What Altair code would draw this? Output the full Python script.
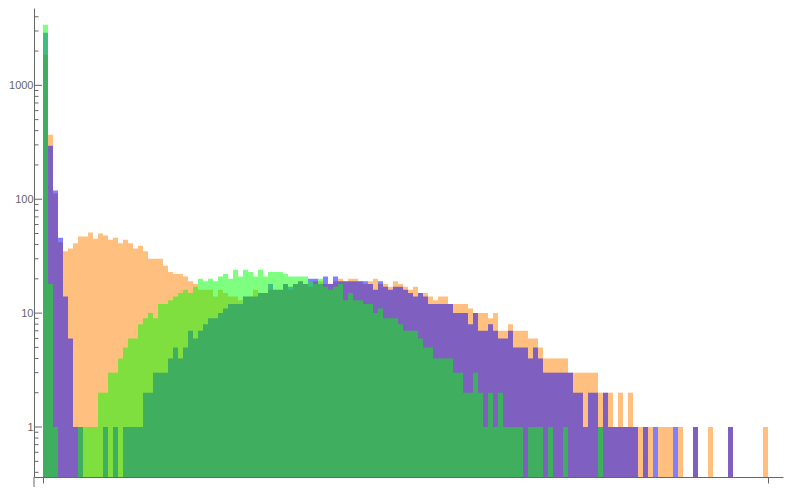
import altair as alt
import pandas as pd

# Histogram counts per bin (bins 0..144), three overlapping series
orange_counts = [
    1860, 368, 112, 42, 35, 37, 41, 47, 47, 51,
    45, 50, 48, 44, 46, 41, 44, 41, 37, 39,
    35, 30, 30, 30, 26, 23, 22, 22, 21, 19,
    18, 16, 16, 16, 14, 16, 15, 14, 14, 13,
    14, 14, 16, 15, 15, 16, 16, 16, 18, 16,
    18, 19, 18, 17, 19, 19, 18, 18, 19, 20,
    19, 20, 20, 19, 18, 19, 20, 18, 18, 17,
    19, 18, 17, 16, 17, 15, 15, 14, 13, 14,
    14, 12, 12, 12, 12, 11, 10, 10, 10, 9,
    10, 7, 7, 8, 7, 7, 7, 6, 6, 5,
    4, 4, 4, 4, 4, 3, 3, 3, 3, 3,
    3, 2, 2, 2, 1, 2, 1, 2, 1, 1,
    1, 1, 0, 1, 1, 1, 0, 1, 0, 0,
    1, 0, 0, 1, 0, 0, 0, 1, 0, 0,
    0, 0, 0, 0, 1,
]
blue_counts = [
    2900, 295, 119, 46, 14, 6, 1, 1, 0, 0,
    0, 0, 1, 0, 1, 0, 1, 1, 1, 1,
    2, 2, 3, 3, 3, 4, 5, 4, 5, 7,
    6, 7, 8, 9, 9, 10, 11, 12, 12, 12,
    14, 14, 14, 15, 15, 18, 16, 16, 18, 17,
    18, 19, 18, 20, 20, 18, 21, 18, 21, 19,
    19, 19, 19, 19, 19, 18, 16, 19, 17, 16,
    17, 17, 16, 15, 14, 15, 14, 12, 12, 12,
    12, 12, 10, 10, 10, 8, 10, 7, 7, 8,
    7, 6, 6, 7, 5, 5, 5, 4, 5, 4,
    3, 3, 3, 3, 3, 3, 2, 2, 1, 2,
    2, 1, 2, 1, 1, 1, 1, 1, 1, 0,
    1, 0, 1, 0, 0, 0, 1, 0, 0, 0,
    1, 0, 0, 0, 0, 0, 0, 1, 0, 0,
    0, 0, 0, 0, 0,
]
green_counts = [
    3400, 18, 1, 0, 0, 0, 0, 1, 1, 1,
    1, 2, 2, 3, 3, 4, 5, 6, 6, 8,
    9, 10, 9, 12, 12, 13, 14, 15, 16, 15,
    17, 20, 19, 20, 19, 21, 22, 20, 24, 21,
    24, 23, 21, 24, 21, 23, 23, 23, 22, 21,
    21, 21, 21, 19, 18, 20, 17, 16, 17, 18,
    13, 15, 13, 13, 12, 12, 10, 11, 9, 9,
    9, 8, 7, 7, 7, 6, 5, 5, 4, 4,
    4, 4, 3, 3, 2, 2, 3, 2, 1, 2,
    1, 2, 1, 1, 1, 1, 0, 1, 1, 1,
    0, 1, 0, 0, 1, 0, 0, 0, 0, 0,
    0, 1, 0, 0, 0, 0, 0, 0, 0, 0,
    0, 0, 0, 0, 0, 0, 0, 0, 0, 0,
    0, 0, 0, 0, 0, 0, 0, 0, 0, 0,
    0, 0, 0, 0, 0,
]

series_names = ["orange", "blue", "green"]
series_colors = ["#FF8000", "#0000FF", "#00FF00"]

major_ticks = [1, 10, 100, 1000]
minor_ticks = ([m / 10 for m in range(4, 10)]
               + [m * 10 ** e for e in range(0, 3) for m in range(2, 10)]
               + [2000, 3000, 4000])
x_ticks = [0, 145]

rows = []
for name, vals in zip(series_names, [orange_counts, blue_counts, green_counts]):
    for i, v in enumerate(vals):
        if v > 0:
            rows.append({"series": name, "bin": i, "bin_end": i + 1, "count": v})
df = pd.DataFrame(rows)

W, H = 749, 469
AX = "#666666"
xscale = alt.Scale(domain=[-1.8, 148], nice=False, zero=False)
yscale = alt.Scale(type="log", domain=[0.364, 4775], nice=False)

x_axis = alt.Axis(values=x_ticks, labels=False, ticks=True, tickSize=6, tickColor=AX,
                  domainColor=AX, grid=False, title=None)
y_axis = alt.Axis(values=major_ticks, format="d", ticks=False, domainColor=AX, grid=False,
                  title=None, labelPadding=1, labelFlush=False, labelOverlap=False,
                  labelFont="Liberation Sans", labelFontSize=11, labelColor=AX)

layers = []
for name, col in zip(series_names, series_colors):
    layers.append(
        alt.Chart(df).transform_filter(alt.datum.series == name)
        .mark_rect(color=col, opacity=0.5, strokeWidth=0)
        .encode(
            x=alt.X("bin:Q", scale=xscale, axis=x_axis),
            x2="bin_end:Q",
            y=alt.Y("count:Q", scale=yscale, axis=y_axis),
            y2=alt.value(H),
        )
    )

major_df = pd.DataFrame({"v": major_ticks})
minor_df = pd.DataFrame({"v": minor_ticks})
major_rules = alt.Chart(major_df).mark_rule(color=AX, strokeWidth=1).encode(
    y=alt.Y("v:Q", scale=yscale, axis=y_axis), x=alt.value(0), x2=alt.value(8))
minor_rules = alt.Chart(minor_df).mark_rule(color=AX, strokeWidth=1).encode(
    y=alt.Y("v:Q", scale=yscale, axis=y_axis), x=alt.value(0), x2=alt.value(4.5))
axis_ext = alt.Chart(pd.DataFrame({"a": [0]})).mark_rule(color=AX, strokeWidth=1).encode(
    x=alt.value(0), y=alt.value(H), y2=alt.value(H + 10))

chart = alt.layer(*layers, major_rules, minor_rules, axis_ext).properties(
    width=W, height=H,
    autosize=alt.AutoSizeParams(type="none"),
    padding={"left": 26, "top": 0, "right": 9, "bottom": 11},
    background="white",
).configure_view(stroke=None)

chart.save("out.html", embed_options={"renderer": "svg", "actions": False})
